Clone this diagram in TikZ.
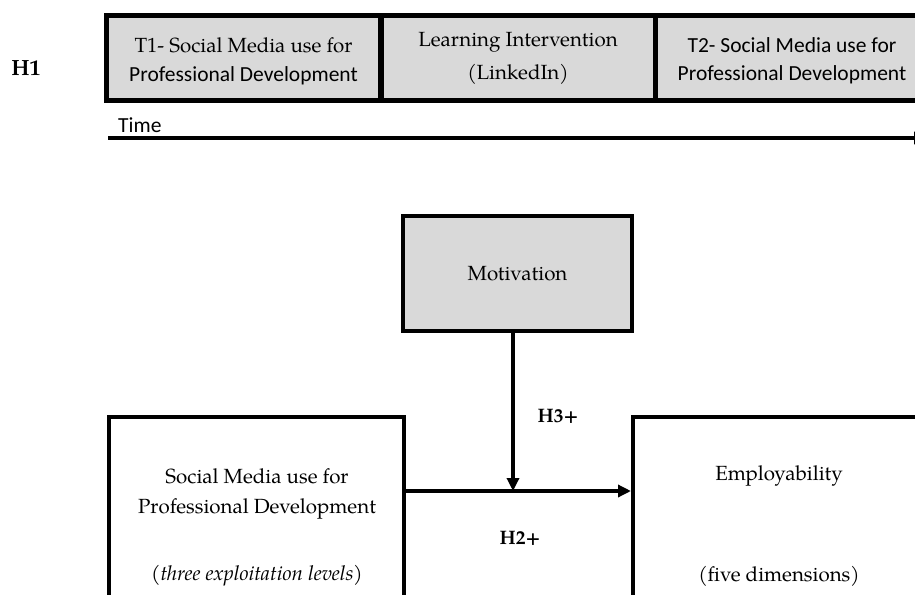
\documentclass[tikz,border=0pt]{standalone}
\usepackage{fontspec}
\setmainfont{TeX Gyre Pagella}
\newfontfamily\carl{Carlito}
\usetikzlibrary{arrows.meta}
\definecolor{boxgray}{HTML}{D9D9D9}
\begin{document}
\begin{tikzpicture}[x=1pt,y=-1pt,
  txt/.style={font=\fontsize{20.5}{24}\selectfont, inner sep=0pt},
  stxt/.style={font=\carl\fontsize{21.5}{24}\selectfont, inner sep=0pt},
  lbl/.style={font=\fontsize{19.5}{22}\selectfont\bfseries, inner sep=0pt},
  topbox/.style={draw, line width=5pt, fill=boxgray, minimum width=274pt, minimum height=84pt, inner sep=0pt},
  motbox/.style={draw, line width=4.5pt, fill=boxgray, inner sep=0pt},
  whitebox/.style={draw, line width=4pt, fill=white, inner sep=0pt},
  arr/.style={line width=3.5pt, -{Triangle[length=13pt,width=12pt]}}]
\useasboundingbox (0,0) rectangle (915,594);
\clip (0,0) rectangle (915,594);
% H1 row
\node[lbl, font=\fontsize{22}{24}\selectfont\bfseries] (h1) at (26,68) {H1};
\node[topbox] (b1) at (243.5,58) {};
\node[topbox] (b2) at (518,58) {};
\node[topbox] (b3) at (792,58) {};
\node[txt] (t1a) at (b1.center |- 0,45) {T1- Social Media use for};
\node[stxt] (t1b) at (b1.center |- 0,76) {Professional Development};
\node[txt] (t2a) at (b2.center |- 0,42) {Learning Intervention};
\node[txt] (t2b) at (b2.center |- 0,74) {(LinkedIn)};
\node[stxt] (t3a) at (b3.center |- 0,45) {T2- Social Media use for};
\node[stxt] (t3b) at (b3.center |- 0,75) {Professional Development};
\node[stxt, anchor=west] (time) at (118,125) {Time};
\coordinate (tl0) at (108,138);
\coordinate (tl1) at (927,138);
\draw[arr] (tl0) -- (tl1);
% model
\node[motbox, minimum width=229pt, minimum height=115pt] (mot) at (517.5,273.5) {};
\node[txt] (mott) at (mot.center) {Motivation};
\node[whitebox, minimum width=295pt, minimum height=243pt] (smb) at (256.5,538.5) {};
\node[whitebox, minimum width=327pt, minimum height=243pt] (emp) at (796.5,538.5) {};
\node[txt] (s1) at (257,476) {Social Media use for};
\node[txt] (s2) at (257,509) {Professional Development};
\node[txt] (s3) at (257,576) {\itshape (three exploitation levels)};
\node[txt] (e1) at (779,476) {Employability};
\node[txt] (e2) at (779,576) {(five dimensions)};
\coordinate (j) at (513,491);
\draw[arr] (smb.east |- j) -- (emp.west |- j);
\draw[arr] (mot.south -| j) -- (j);
\node[lbl] (h3) at (558,416) {H3+};
\node[lbl] (h2) at (520,538) {H2+};
\end{tikzpicture}
\end{document}
